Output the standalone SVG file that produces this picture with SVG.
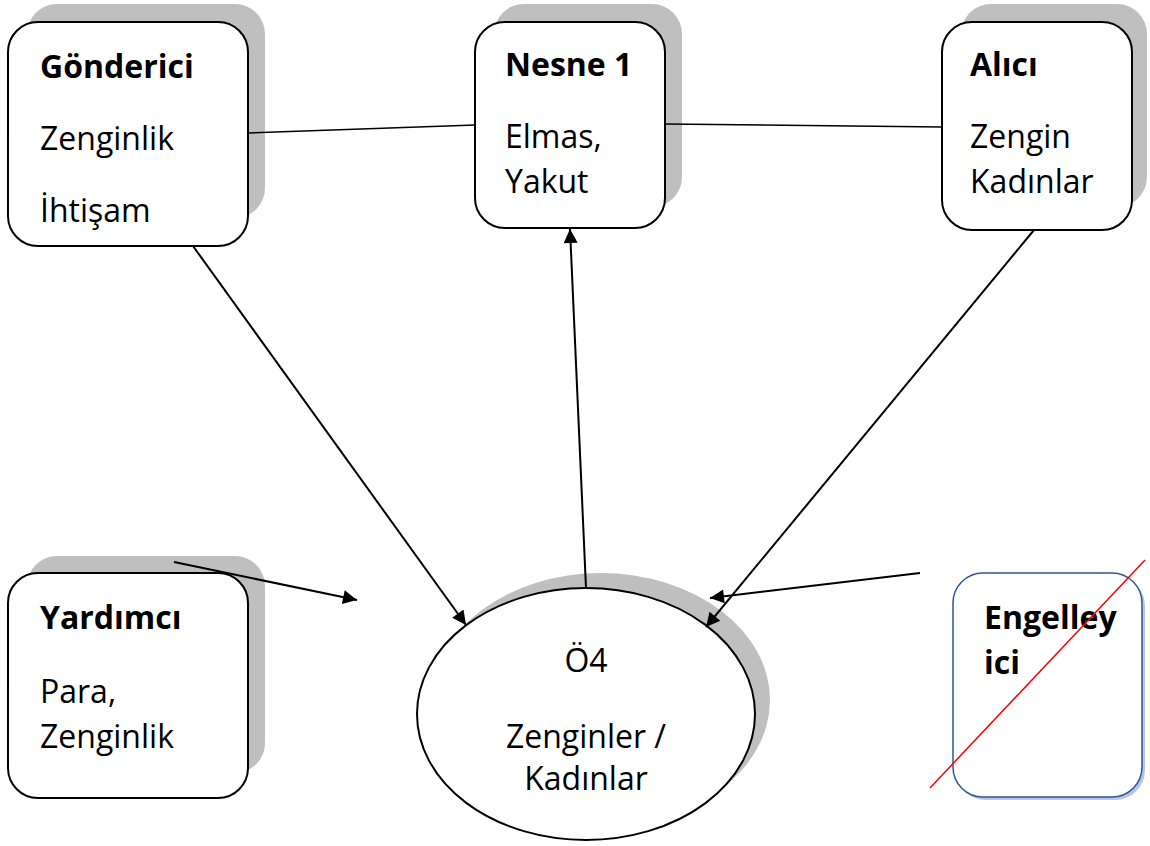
<svg xmlns="http://www.w3.org/2000/svg" width="1150" height="846" viewBox="0 0 1150 846">
<style>
.box{fill:#fff;stroke:#000;stroke-width:2}
.shadow{fill:#bfbfbf}
.t{font-family:"Open Sans","Liberation Sans",sans-serif;font-size:32px;fill:#000}
.b{font-weight:bold}
.c{stroke:#000;stroke-width:2;fill:none}
.thin{stroke:#000;stroke-width:1.5;fill:none}
</style>
<defs>
<marker id="ah" viewBox="0 0 10 10" refX="10" refY="5" markerWidth="8.5" markerHeight="7" markerUnits="strokeWidth" orient="auto">
<path d="M0,0 L10,5 L0,10 z" fill="#000"/>
</marker>
</defs>
<rect width="1150" height="846" fill="#fff"/>
<g id="gonderici">
<rect class="shadow" x="27" y="4" width="238" height="214" rx="30"/>
<rect class="box" x="8" y="22" width="240" height="224" rx="30"/>
<text class="t b" x="40" y="78">Gönderici</text>
<text class="t" x="40" y="150">Zenginlik</text>
<text class="t" x="40" y="222">İhtişam</text>
</g>
<g id="nesne">
<rect class="shadow" x="494" y="4" width="188" height="203" rx="30"/>
<rect class="box" x="475" y="22" width="190" height="206" rx="30"/>
<text class="t b" x="505" y="76">Nesne 1</text>
<text class="t" x="505" y="148">Elmas,</text>
<text class="t" x="505" y="193">Yakut</text>
</g>
<g id="alici">
<rect class="shadow" x="961" y="4" width="186" height="203" rx="30"/>
<rect class="box" x="942" y="22" width="190" height="208" rx="30"/>
<text class="t b" x="970" y="76">Alıcı</text>
<text class="t" x="970" y="148">Zengin</text>
<text class="t" x="970" y="193">Kadınlar</text>
</g>
<g id="yardimci">
<rect class="shadow" x="27" y="556" width="238" height="217" rx="30"/>
<rect class="box" x="8" y="573" width="240" height="225" rx="30"/>
<text class="t b" x="40" y="629">Yardımcı</text>
<text class="t" x="40" y="703">Para,</text>
<text class="t" x="40" y="748">Zenginlik</text>
</g>
<g id="o4">
<ellipse class="shadow" cx="601" cy="700" rx="169" ry="127"/>
<ellipse class="box" cx="586" cy="714" rx="169" ry="126"/>
<text class="t" x="586" y="672" text-anchor="middle">Ö4</text>
<text class="t" x="586" y="748" text-anchor="middle">Zenginler /</text>
<text class="t" x="586" y="790" text-anchor="middle">Kadınlar</text>
</g>
<g id="engelleyici">
<rect x="956" y="576" width="189" height="224" rx="30" fill="#b4c7e7"/>
<rect x="953" y="573" width="189" height="224" rx="30" fill="#fff" stroke="#2f5597" stroke-width="1.5"/>
<text class="t b" x="984" y="629">Engelley</text>
<text class="t b" x="984" y="674">ici</text>
<line x1="930" y1="788" x2="1145" y2="560" stroke="#ff0000" stroke-width="1.5"/>
</g>
<g id="connectors">
<line class="thin" x1="248" y1="133" x2="475" y2="125"/>
<line class="thin" x1="665" y1="124" x2="942" y2="127"/>
<line class="c" x1="193" y1="246" x2="466" y2="625" marker-end="url(#ah)"/>
<line class="c" x1="586" y1="588" x2="570" y2="229" marker-end="url(#ah)"/>
<line class="c" x1="1034" y1="230" x2="706" y2="627" marker-end="url(#ah)"/>
<line class="c" x1="920" y1="573" x2="710" y2="598" marker-end="url(#ah)"/>
<line class="c" x1="174" y1="562" x2="357" y2="600" marker-end="url(#ah)"/>
</g>
</svg>
